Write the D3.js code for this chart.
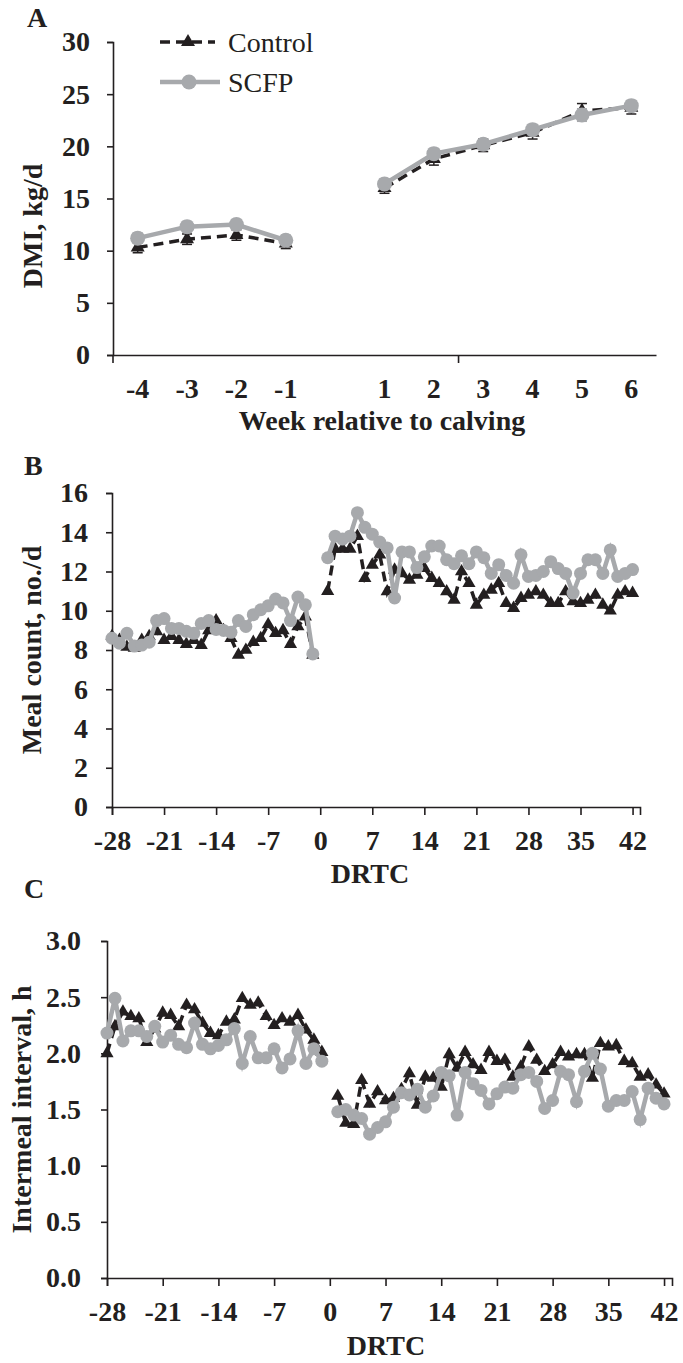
<!DOCTYPE html>
<meta charset="utf-8">
<style>
  body { margin: 0; background: #fff; }
  svg { display: block; }
  text { font-family: "Liberation Serif", "Times New Roman", serif; fill: #231f20; }
  .tick text { font-size: 28px; font-weight: bold; }
  .axis path, .axis line { stroke: #231f20; stroke-width: 1.6; }
  .title { font-size: 28px; font-weight: bold; }
  .legend { font-size: 28px; }
</style>
<body>
<script src="https://cdnjs.cloudflare.com/ajax/libs/d3/7.8.5/d3.min.js"></script>
<script>

var black = "#231f20", grey = "#a7a9ac";

// panel A : DMI by week
var weekCats = ["-4", "-3", "-2", "-1", "gap", "1", "2", "3", "4", "5", "6"];
var weeksPre = ["-4", "-3", "-2", "-1"];
var weeksPost = ["1", "2", "3", "4", "5", "6"];
var dmiControl = [10.3, 11.1, 11.5, 10.7, 16.0, 18.8, 20.1, 21.3, 23.4, 23.7];
var dmiScfp = [11.2, 12.3, 12.5, 11.0, 16.4, 19.3, 20.2, 21.6, 23.0, 23.9];
var dmiControlSE = [0.5, 0.5, 0.5, 0.5, 0.5, 0.6, 0.6, 0.6, 0.7, 0.6];
var dmiScfpSE = [0.5, 0.5, 0.5, 0.5, 0.5, 0.5, 0.5, 0.5, 0.6, 0.5];

// days relative to calving (B and C)
var daysPre = [-28, -27, -26, -25, -24, -23, -22, -21, -20, -19, -18, -17, -16, -15,
  -14, -13, -12, -11, -10, -9, -8, -7, -6, -5, -4, -3, -2, -1];
var daysPost = [1, 2, 3, 4, 5, 6, 7, 8, 9, 10, 11, 12, 13, 14, 15, 16, 17, 18, 19, 20, 21,
  22, 23, 24, 25, 26, 27, 28, 29, 30, 31, 32, 33, 34, 35, 36, 37, 38, 39, 40, 41, 42];
var dayTicks = [-28, -21, -14, -7, 0, 7, 14, 21, 28, 35, 42];

// panel B : meal count
var mealControlPre = [8.7, 8.5, 8.15, 8.1, 8.5, 8.7, 8.95, 8.5, 8.7, 8.5, 8.3, 8.5, 8.25, 9.0,
  9.5, 9.0, 8.6, 7.75, 8.0, 8.4, 8.6, 9.3, 8.85, 9.0, 8.3, 9.2, 9.7, 7.75];
var mealScfpPre = [8.6, 8.35, 8.85, 8.2, 8.25, 8.4, 9.5, 9.6, 9.1, 9.1, 8.95, 8.85, 9.35, 9.5,
  9.05, 9.0, 8.9, 9.5, 9.2, 9.8, 10.05, 10.25, 10.6, 10.4, 9.5, 10.7, 10.3, 7.8];
var mealControlPost = [11.0, 13.15, 13.15, 13.15, 13.8, 11.66, 12.34, 12.85, 10.98, 12.08,
  11.9, 11.57, 11.83, 12.17, 11.66, 11.4, 10.98, 10.55, 12.0, 11.4, 10.3, 10.8, 11.06, 11.4,
  10.38, 10.13, 10.64, 10.8, 10.98, 10.8, 10.38, 10.38, 10.98, 10.47, 10.38, 10.55, 10.8,
  10.3, 10.0, 10.8, 10.98, 10.9];
var mealScfpPost = [12.7, 13.8, 13.65, 13.8, 15.0, 14.25, 13.9, 13.5, 13.2, 10.65, 13.0, 13.0,
  12.2, 12.75, 13.3, 13.3, 12.6, 12.4, 12.8, 12.4, 13.0, 12.7, 11.9, 12.35, 11.8, 11.4, 12.85,
  11.75, 11.8, 12.0, 12.5, 12.15, 11.9, 10.9, 11.9, 12.6, 12.6, 11.9, 13.1, 11.75, 11.9, 12.1];

// panel C : intermeal interval
var intControlPre = [2.0, 2.24, 2.37, 2.33, 2.31, 2.10, 2.22, 2.36, 2.34, 2.24, 2.43, 2.39,
  2.27, 2.18, 2.16, 2.28, 2.30, 2.49, 2.43, 2.45, 2.33, 2.25, 2.31, 2.28, 2.34, 2.21, 2.12, 2.01];
var intScfpPre = [2.18, 2.49, 2.11, 2.20, 2.20, 2.15, 2.24, 2.10, 2.16, 2.08, 2.05, 2.27, 2.08,
  2.04, 2.07, 2.12, 2.22, 1.91, 2.15, 1.96, 1.96, 2.04, 1.87, 1.95, 2.20, 1.91, 2.04, 1.93];
var intControlPost = [1.62, 1.38, 1.37, 1.76, 1.55, 1.66, 1.58, 1.60, 1.68, 1.82, 1.54, 1.79,
  1.78, 1.70, 1.99, 1.87, 2.01, 1.90, 1.85, 2.01, 1.93, 1.94, 1.79, 1.88, 2.06, 1.94, 1.84,
  1.90, 2.01, 1.97, 1.99, 1.99, 1.78, 2.09, 2.06, 2.07, 1.93, 1.91, 1.79, 1.81, 1.72, 1.64];
var intScfpPost = [1.48, 1.50, 1.45, 1.42, 1.28, 1.34, 1.39, 1.52, 1.65, 1.63, 1.68, 1.52,
  1.62, 1.83, 1.80, 1.45, 1.83, 1.73, 1.67, 1.55, 1.64, 1.70, 1.69, 1.81, 1.83, 1.75, 1.51,
  1.58, 1.84, 1.81, 1.57, 1.84, 2.00, 1.86, 1.53, 1.58, 1.58, 1.66, 1.41, 1.69, 1.60, 1.55];

var svg = d3.select("body").append("svg")
    .attr("width", 683)
    .attr("height", 1363);

svg.append("rect").attr("width", 683).attr("height", 1363).attr("fill", "#fff");

var tri = d3.symbol().type(d3.symbolTriangle);

function drawSeries(g, pts, x, y, control, triSize, r) {
  var line = d3.line().x(function(d) { return x(d[0]); }).y(function(d) { return y(d[1]); });
  g.append("path")
    .attr("d", line(pts))
    .attr("fill", "none")
    .attr("stroke", control ? black : grey)
    .attr("stroke-width", control ? 3.5 : 4.5)
    .attr("stroke-dasharray", control ? "10,6" : null);
  if (control) {
    g.selectAll(null).data(pts).enter().append("path")
      .attr("d", tri.size(triSize))
      .attr("transform", function(d) { return "translate(" + x(d[0]) + "," + y(d[1]) + ")"; })
      .attr("fill", black);
  } else {
    g.selectAll(null).data(pts).enter().append("circle")
      .attr("cx", function(d) { return x(d[0]); })
      .attr("cy", function(d) { return y(d[1]); })
      .attr("r", r)
      .attr("fill", grey);
  }
}

function zip(a, b) {
  return a.map(function(d, i) { return [d, b[i]]; });
}

/*
** Panel A
*/
var xA = d3.scaleBand().domain(weekCats).range([113, 656]);
var yA = d3.scaleLinear().domain([0, 30]).range([355, 42]);
var xc = function(c) { return xA(c) + xA.bandwidth() / 2; };

svg.append("g").attr("class", "axis")
    .attr("transform", "translate(113,0)")
    .call(d3.axisLeft(yA).tickValues([0, 5, 10, 15, 20, 25, 30]).tickSizeOuter(0).tickSize(6).tickPadding(17));

svg.append("g").attr("class", "axis")
    .attr("transform", "translate(0,355)")
    .call(d3.axisBottom(xA).tickSize(0).tickPadding(23).tickSizeOuter(0)
      .tickFormat(function(d) { return d === "gap" ? "" : d; }));

// category boundary ticks
svg.append("g").selectAll("line").data([weekCats[0], weekCats[7]]).enter().append("line")
    .attr("x1", function(d) { return xA(d); }).attr("x2", function(d) { return xA(d); })
    .attr("y1", 355).attr("y2", 363)
    .attr("stroke", black).attr("stroke-width", 1.6);

var dmiC = weeksPre.concat(weeksPost).map(function(w, i) { return [w, dmiControl[i], dmiControlSE[i]]; });
var dmiS = weeksPre.concat(weeksPost).map(function(w, i) { return [w, dmiScfp[i], dmiScfpSE[i]]; });

var gA = svg.append("g");
[[dmiC, true], [dmiS, false]].forEach(function(s) {
  var col = s[1] ? black : grey;
  var eb = gA.append("g");
  eb.selectAll("line.v").data(s[0]).enter().append("line")
    .attr("x1", function(d) { return xc(d[0]); }).attr("x2", function(d) { return xc(d[0]); })
    .attr("y1", function(d) { return yA(d[1] - d[2]); }).attr("y2", function(d) { return yA(d[1] + d[2]); })
    .attr("stroke", col).attr("stroke-width", 1.5);
  [-1, 1].forEach(function(sg) {
    eb.selectAll(null).data(s[0]).enter().append("line")
      .attr("x1", function(d) { return xc(d[0]) - 5; }).attr("x2", function(d) { return xc(d[0]) + 5; })
      .attr("y1", function(d) { return yA(d[1] + sg * d[2]); }).attr("y2", function(d) { return yA(d[1] + sg * d[2]); })
      .attr("stroke", col).attr("stroke-width", 1.5);
  });
  drawSeries(gA, s[0].slice(0, 4), xc, yA, s[1], 85, 7.5);
  drawSeries(gA, s[0].slice(4), xc, yA, s[1], 85, 7.5);
});

svg.append("text").attr("class", "title").attr("x", 27).attr("y", 27).text("A");
svg.append("text").attr("class", "title")
    .attr("transform", "translate(42,226) rotate(-90)")
    .attr("text-anchor", "middle").text("DMI, kg/d");
svg.append("text").attr("class", "title")
    .attr("x", 382).attr("y", 430).attr("text-anchor", "middle")
    .text("Week relative to calving");

// legend
var lg = svg.append("g");
drawSeries(lg, [[160, 42], [215, 42]], function(v) { return v; }, function(v) { return v; }, true, 0, 0);
lg.append("path").attr("d", tri.size(85)).attr("transform", "translate(188,42)").attr("fill", black);
drawSeries(lg, [[160, 82], [220, 82]], function(v) { return v; }, function(v) { return v; }, false, 0, 0);
lg.append("circle").attr("cx", 189).attr("cy", 82).attr("r", 7.5).attr("fill", grey);
lg.append("text").attr("class", "legend").attr("x", 228).attr("y", 52).text("Control");
lg.append("text").attr("class", "legend").attr("x", 228).attr("y", 92).text("SCFP");

/*
** Panels B and C share the same day layout
*/
function dayPanel(opt) {
  var x = d3.scaleLinear().domain([-28, 43]).range([opt.left, opt.right]);
  var y = d3.scaleLinear().domain([0, opt.ymax]).range([opt.bottom, opt.top]);

  svg.append("g").attr("class", "axis")
      .attr("transform", "translate(" + opt.left + ",0)")
      .call(d3.axisLeft(y).tickValues(opt.yticks).tickFormat(opt.yfmt)
        .tickSizeOuter(0).tickSize(6).tickPadding(opt.ypad));

  // plain hyphen for negative days, like the original
  svg.append("g").attr("class", "axis")
      .attr("transform", "translate(0," + opt.bottom + ")")
      .call(d3.axisBottom(x).tickValues(dayTicks).tickFormat(function(d) { return String(d); })
        .tickSizeOuter(0).tickSize(8).tickPadding(15));

  var g = svg.append("g");
  drawSeries(g, zip(daysPre, opt.cPre), x, y, true, 75, 6.5);
  drawSeries(g, zip(daysPost, opt.cPost), x, y, true, 75, 6.5);
  drawSeries(g, zip(daysPre, opt.sPre), x, y, false, 75, 6.5);
  drawSeries(g, zip(daysPost, opt.sPost), x, y, false, 75, 6.5);

  svg.append("text").attr("class", "title").attr("x", 24).attr("y", opt.letterY).text(opt.letter);
  svg.append("text").attr("class", "title")
      .attr("transform", "translate(" + opt.ylabX + "," + (opt.top + opt.bottom) / 2 + ") rotate(-90)")
      .attr("text-anchor", "middle").text(opt.ylabel);
  svg.append("text").attr("class", "title")
      .attr("x", opt.xlabX).attr("y", opt.xlabY).attr("text-anchor", "middle").text("DRTC");
}

dayPanel({
  left: 112, right: 640, top: 493, bottom: 807, ymax: 16,
  yticks: [0, 2, 4, 6, 8, 10, 12, 14, 16], yfmt: d3.format("d"), ypad: 18,
  cPre: mealControlPre, cPost: mealControlPost, sPre: mealScfpPre, sPost: mealScfpPost,
  letter: "B", letterY: 475, ylabel: "Meal count, no./d", ylabX: 41,
  xlabX: 370, xlabY: 883
});

dayPanel({
  left: 107, right: 672, top: 941, bottom: 1278, ymax: 3,
  yticks: [0, 0.5, 1, 1.5, 2, 2.5, 3], yfmt: d3.format(".1f"), ypad: 20,
  cPre: intControlPre, cPost: intControlPost, sPre: intScfpPre, sPost: intScfpPost,
  letter: "C", letterY: 898, ylabel: "Intermeal interval, h", ylabX: 31,
  xlabX: 386, xlabY: 1355
});

</script>
</body>
